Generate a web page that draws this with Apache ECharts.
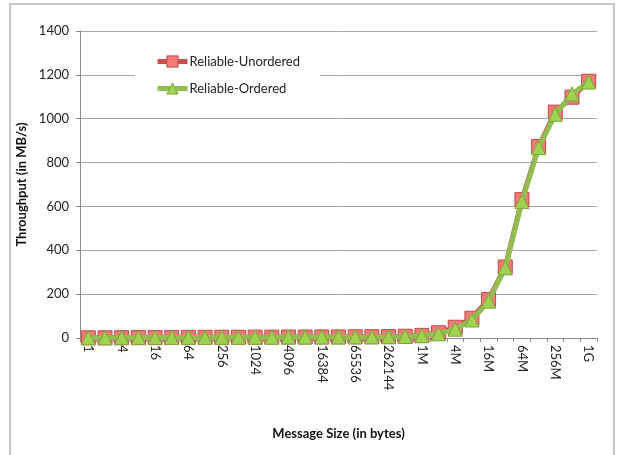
<!DOCTYPE html>
<html>
<head>
<meta charset="utf-8">
<script src="https://cdn.jsdelivr.net/npm/echarts@6/dist/echarts.min.js"></script>
<style>
  html, body { margin: 0; padding: 0; background: #fff; }
  #chart { width: 620px; height: 455px; }
</style>
</head>
<body>
<div id="chart"></div>
<script>
// Message sizes from 1 byte to 1 GiB, doubling each step
const messageSizes = [
  '1', '2', '4', '8', '16', '32', '64', '128', '256', '512',
  '1024', '2048', '4096', '8192', '16384', '32768', '65536', '131072', '262144', '524288',
  '1M', '2M', '4M', '8M', '16M', '32M', '64M', '128M', '256M', '512M', '1G'
];

// Throughput in MB/s
const reliableUnordered = [
  1, 1, 1.5, 2, 2, 2.5, 3, 3, 3.5, 3.5,
  4, 4, 4.5, 4.5, 5, 5, 5.5, 6, 6.5, 8,
  12, 24, 49, 90, 176, 324, 631, 873, 1030, 1098, 1171
];
const reliableOrdered = [
  0.5, 0.5, 1, 1.5, 1.5, 2, 2.5, 2.5, 3, 3,
  3.5, 3.5, 4, 4, 4.5, 4.5, 5, 5, 5.5, 7,
  10, 19, 40, 82, 168, 320, 622, 868, 1020, 1113, 1167
];

const yTicks = { min: 0, max: 1400, interval: 200 };

const font = 'Lato, "Open Sans", sans-serif';

const unorderedColors = { line: '#c9504d', fill: '#f17b77', border: '#c24a47' };
const orderedColors = { line: '#92bd50', fill: '#9fd24e', border: '#7fa63c' };

const chart = echarts.init(document.getElementById('chart'), null, { renderer: 'canvas' });

chart.setOption({
  backgroundColor: '#ffffff',
  animation: false,
  textStyle: { fontFamily: font },
  graphic: [
    {
      type: 'rect',
      shape: { x: 10, y: 4, width: 604, height: 470 },
      style: { fill: 'none', stroke: '#b4b4b4', lineWidth: 1.5 },
      silent: true,
      z: -10
    }
  ],
  grid: { left: 80, top: 31, right: 23, bottom: 117, containLabel: false },
  legend: {
    left: 135,
    top: 45,
    orient: 'vertical',
    backgroundColor: '#ffffff',
    padding: [10, 20, 10, 20],
    itemWidth: 30,
    itemHeight: 14,
    itemGap: 14,
    textStyle: { fontFamily: font, fontSize: 13, color: '#222', padding: [0, 0, 0, -3] },
    data: [
      {
        name: 'Reliable-Unordered',
        lineStyle: { width: 5, color: unorderedColors.line },
        itemStyle: { color: unorderedColors.fill, borderColor: unorderedColors.border, borderWidth: 1 }
      },
      {
        name: 'Reliable-Ordered',
        lineStyle: { width: 5, color: orderedColors.line },
        itemStyle: { color: orderedColors.fill, borderColor: orderedColors.border, borderWidth: 1 }
      }
    ]
  },
  xAxis: {
    type: 'category',
    data: messageSizes,
    boundaryGap: true,
    name: 'Message Size (in bytes)',
    nameLocation: 'middle',
    nameGap: 89,
    nameTextStyle: { fontFamily: font, fontSize: 13, fontWeight: 'bold', color: '#111' },
    axisLine: { lineStyle: { color: '#8c8c8c', width: 1 } },
    axisTick: { show: true, interval: 0, length: 4, lineStyle: { color: '#8c8c8c' } },
    axisLabel: {
      interval: 1,
      rotate: -90,
      margin: 7,
      fontFamily: font,
      fontSize: 13,
      color: '#222'
    },
    splitLine: { show: false }
  },
  yAxis: {
    type: 'value',
    min: yTicks.min,
    max: yTicks.max,
    interval: yTicks.interval,
    name: 'Throughput (in MB/s)',
    nameLocation: 'middle',
    nameGap: 43,
    nameTextStyle: { fontFamily: font, fontSize: 13, fontWeight: 'bold', color: '#111' },
    axisLine: { show: true, lineStyle: { color: '#8c8c8c', width: 1 } },
    axisTick: { show: true, length: 4, lineStyle: { color: '#8c8c8c' } },
    axisLabel: {
      margin: 11,
      fontFamily: font,
      fontSize: 13,
      color: '#222',
      formatter: (v) => String(v)
    },
    splitLine: { show: true, lineStyle: { color: '#a6a6a6', width: 1 } }
  },
  series: [
    {
      name: 'Reliable-Unordered',
      type: 'line',
      data: reliableUnordered,
      symbol: 'rect',
      symbolSize: 14,
      showAllSymbol: true,
      lineStyle: { color: unorderedColors.line, width: 5 },
      itemStyle: { color: unorderedColors.fill, borderColor: unorderedColors.border, borderWidth: 1 },
      z: 2
    },
    {
      name: 'Reliable-Ordered',
      type: 'line',
      data: reliableOrdered,
      symbol: 'triangle',
      symbolSize: 14,
      showAllSymbol: true,
      lineStyle: { color: orderedColors.line, width: 5 },
      itemStyle: { color: orderedColors.fill, borderColor: orderedColors.border, borderWidth: 1 },
      z: 3
    }
  ]
});
</script>
</body>
</html>
